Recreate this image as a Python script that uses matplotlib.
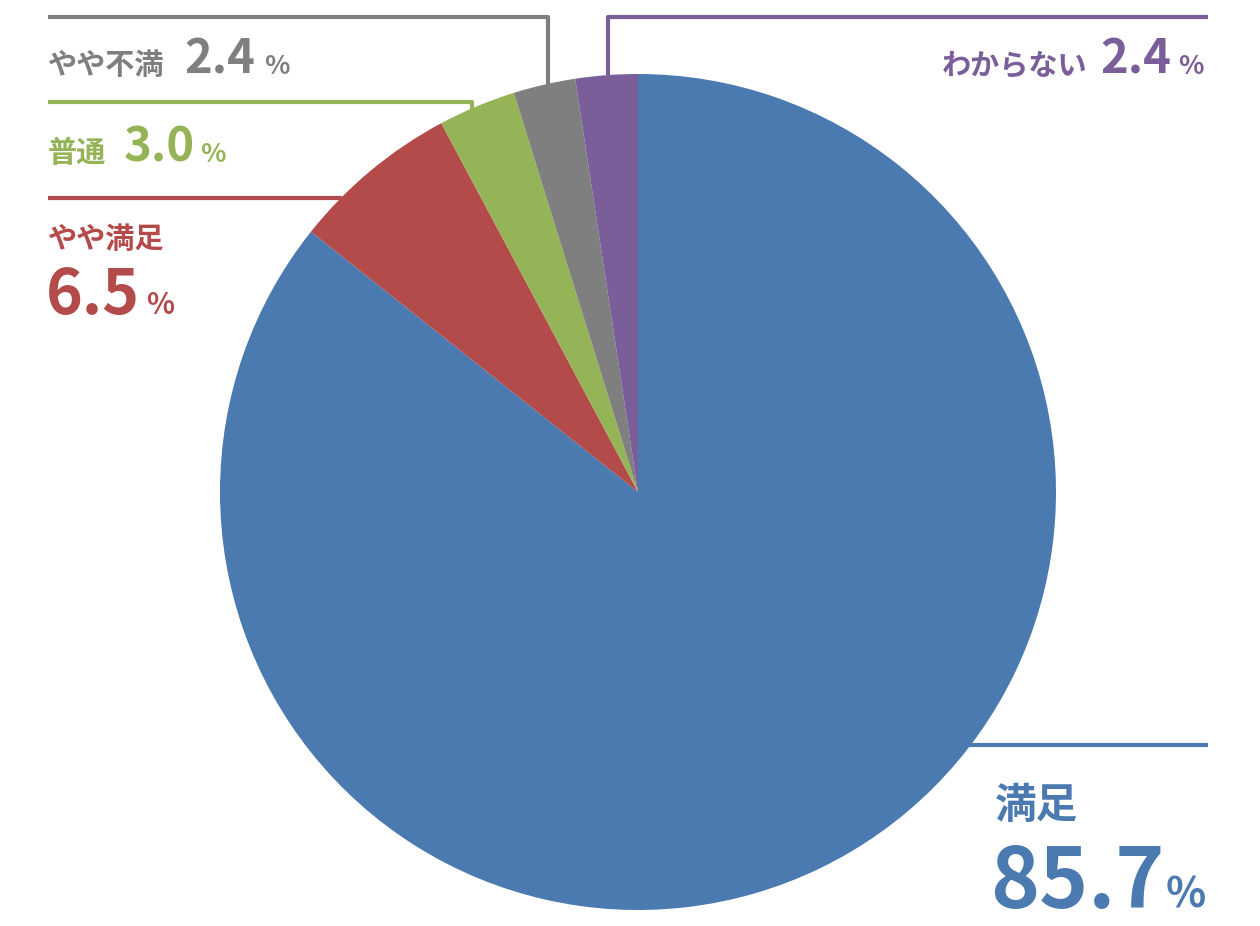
import matplotlib
matplotlib.use("Agg")
import matplotlib.pyplot as plt

labels = ["満足", "やや満足", "普通", "やや不満", "わからない"]
values = [85.7, 6.5, 3.0, 2.4, 2.4]
colors = ["#4A7AB0", "#B34B4A", "#95B357", "#7F7F7F", "#7A5E99"]

plt.rcParams['font.family'] = ['Noto Sans CJK JP', 'DejaVu Sans']
fig = plt.figure(figsize=(12.6, 9.26), dpi=100)
ax = fig.add_axes([0, 0, 1, 1])
H = 926
Y = lambda y: H - y

ax.pie(values, colors=colors, startangle=90, counterclock=False,
       center=(638, Y(492)), radius=418, frame=True,
       wedgeprops=dict(linewidth=0))
ax.set_xlim(0, 1260); ax.set_ylim(0, 926); ax.axis('off'); ax.set_aspect('auto')

def line(pts, c):
    ax.plot([p[0] for p in pts], [Y(p[1]) for p in pts], color=c, lw=3, solid_capstyle='butt')

line([(48, 17), (548, 17), (548, 84)], colors[3])
line([(48, 102), (472, 102), (472, 114)], colors[2])
line([(48, 198), (342, 198)], colors[1])
line([(608, 75), (608, 17), (1208, 17)], colors[4])
line([(968, 745), (1208, 745)], colors[0])

def txt(x, y, s, size, c, ha='left'):
    ax.text(x, Y(y), s, fontsize=size, color=c, fontweight='bold', ha=ha, va='baseline')

txt(48, 74, labels[3], 21, colors[3]); txt(184, 74, f"{values[3]}", 34, colors[3]); txt(264, 74, "%", 19, colors[3])
txt(48, 162, labels[2], 21, colors[2]); txt(124, 162, f"{values[2]:.1f}", 34, colors[2]); txt(200, 162, "%", 19, colors[2])
txt(48, 248, labels[1], 21, colors[1]); txt(46, 314, f"{values[1]}", 45, colors[1]); txt(146, 314, "%", 21, colors[1])
txt(1087, 74, labels[4], 21, colors[4], ha='right'); txt(1100, 74, f"{values[4]}", 34, colors[4]); txt(1178, 74, "%", 19, colors[4])
txt(995, 818, labels[0], 30, colors[0]); txt(990, 908, f"{values[0]}", 60, colors[0]); txt(1166, 908, "%", 30, colors[0])

fig.savefig("out.png", dpi=100)
